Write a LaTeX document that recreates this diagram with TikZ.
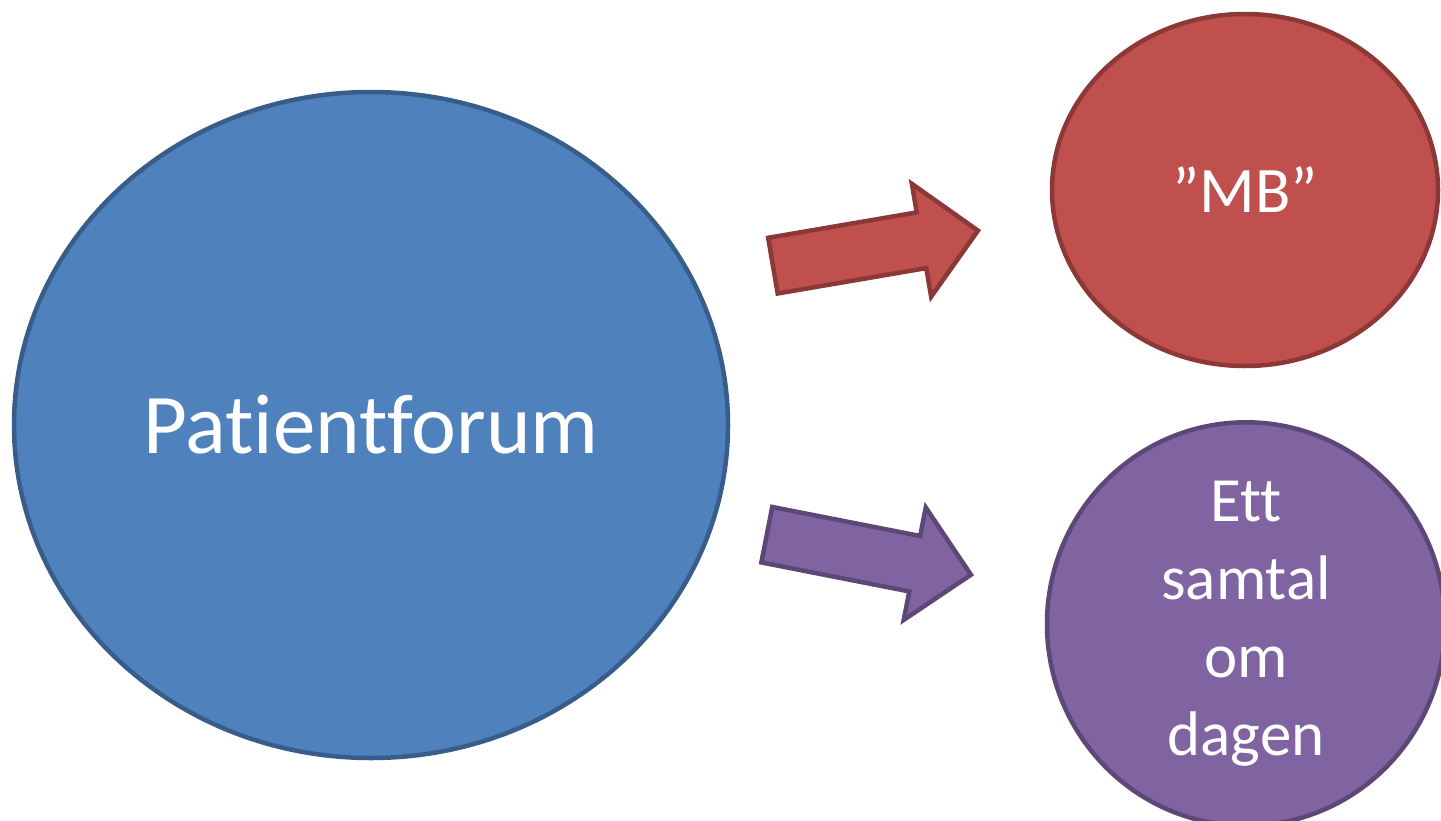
\documentclass[tikz,border=0pt]{standalone}
\usepackage{fontspec}
\setmainfont[Ligatures=NoCommon]{Carlito}
\usetikzlibrary{shapes.geometric,shapes.arrows}

\definecolor{blueFill}{HTML}{4F81BD}
\definecolor{blueLine}{HTML}{385D8A}
\definecolor{redFill}{HTML}{C0504D}
\definecolor{redLine}{HTML}{8C3836}
\definecolor{purpleFill}{HTML}{8064A2}
\definecolor{purpleLine}{HTML}{5C4776}

\tikzset{
 blob/.style={ellipse,inner sep=0pt,line width=4.5pt,text=white,align=center},
 bigarrow/.style={single arrow,inner xsep=0pt,inner ysep=26pt,minimum height=208pt,
  single arrow head extend=29pt,line width=4.5pt},
}

\begin{document}
\begin{tikzpicture}[x=1pt,y=-1pt]
 \useasboundingbox (0,0) rectangle (1441,820);
 \node[blob,fill=blueFill,draw=blueLine,minimum width=714pt,minimum height=666pt,
  font=\fontsize{85}{100}\selectfont] (forum) at (371,425) {Patientforum};
 \node[blob,fill=redFill,draw=redLine,minimum width=386pt,minimum height=352pt,
  font=\fontsize{65}{78}\selectfont] (mb) at (1245,190) {”MB”};
 \node[blob,fill=purpleFill,draw=purpleLine,minimum width=398pt,minimum height=398pt,
  font=\fontsize{63}{78}\selectfont] (samtal) at (1246,624) {Ett\\samtal\\om\\dagen};

 \node[bigarrow,fill=redFill,draw=redLine,rotate=9.7] (toMb) at (861.5,250.5) {};
 \node[bigarrow,fill=purpleFill,draw=purpleLine,rotate=-11.1] (toSamtal) at (855,552) {};
\end{tikzpicture}
\end{document}
